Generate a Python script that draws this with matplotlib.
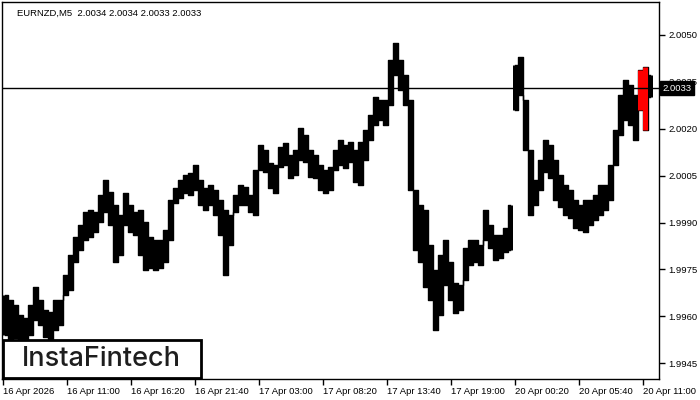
import matplotlib
matplotlib.use("Agg")
import matplotlib.pyplot as plt
import matplotlib.transforms as mtransforms
from matplotlib.patches import Rectangle

# ---------------- data (aggregated bars) -------------
highs = [1.99669, 1.99653, 1.99637, 1.99605, 1.99595, 1.99637, 1.99694, 1.99653, 1.99621, 1.99614,
         1.99653, 1.99653, 1.99732, 1.99796, 1.99854, 1.99892, 1.99934, 1.99940, 1.99934, 1.99988,
         2.00036, 1.99998, 1.99956, 1.99924, 1.99995, 1.99956, 1.99934, 1.99940, 1.99902, 1.99854,
         1.99844, 1.99844, 1.99876, 1.99972, 2.00011, 2.00036, 2.00052, 2.00059, 2.00084, 2.00036,
         2.00011, 2.00020, 2.00004, 1.99972, 1.99940, 1.99924, 1.99988, 2.00020, 2.00014, 1.99988,
         2.00068, 2.00148, 2.00132, 2.00091, 2.00084, 2.00142, 2.00155, 2.00116, 2.00132, 2.00203,
         2.00180, 2.00132, 2.00116, 2.00084, 2.00068, 2.00078, 2.00132, 2.00164, 2.00148, 2.00158,
         2.00132, 2.00158, 2.00196, 2.00244, 2.00302, 2.00292, 2.00292, 2.00420, 2.00474, 2.00420,
         2.00372, 2.00292, 2.00004, 1.99956, 1.99940, 1.99828, 1.99748, 1.99796, 1.99844, 1.99774,
         1.99707, 1.99700, 1.99819, 1.99844, 1.99844, 1.99828, 1.99940, 1.99892, 1.99860, 1.99860,
         1.99883, 1.99956, 2.00404, 2.00430, 2.00292, 2.00132, 2.00036, 2.00100, 2.00164, 2.00148,
         2.00100, 2.00052, 2.00020, 2.00004, 1.99972, 1.99956, 1.99972, 1.99972, 1.99988, 2.00020,
         2.00020, 2.00084, 2.00196, 2.00308, 2.00356, 2.00340, 2.00308, 2.00388, 2.00398, 2.00372]
lows = [1.99541, 1.99525, 1.99531, 1.99525, 1.99518, 1.99541, 1.99589, 1.99573, 1.99534, 1.99525,
        1.99557, 1.99573, 1.99669, 1.99685, 1.99774, 1.99812, 1.99844, 1.99854, 1.99870, 1.99902,
        1.99934, 1.99892, 1.99774, 1.99796, 1.99892, 1.99870, 1.99860, 1.99796, 1.99748, 1.99755,
        1.99748, 1.99755, 1.99774, 1.99844, 1.99963, 1.99979, 1.99995, 1.99988, 2.00004, 1.99956,
        1.99940, 1.99956, 1.99924, 1.99860, 1.99732, 1.99828, 1.99934, 1.99956, 1.99956, 1.99934,
        1.99924, 2.00068, 2.00062, 2.00011, 1.99995, 2.00078, 2.00084, 2.00043, 2.00052, 2.00100,
        2.00094, 2.00046, 2.00043, 2.00004, 1.99995, 2.00004, 2.00068, 2.00084, 2.00075, 2.00094,
        2.00030, 2.00020, 2.00100, 2.00164, 2.00212, 2.00228, 2.00212, 2.00276, 2.00372, 2.00324,
        2.00276, 2.00004, 1.99812, 1.99774, 1.99694, 1.99653, 1.99557, 1.99605, 1.99700, 1.99653,
        1.99611, 1.99621, 1.99716, 1.99764, 1.99774, 1.99764, 1.99844, 1.99819, 1.99780, 1.99787,
        1.99806, 1.99812, 2.00260, 2.00308, 2.00132, 1.99924, 1.99956, 2.00004, 2.00062, 2.00043,
        1.99972, 1.99950, 1.99924, 1.99915, 1.99883, 1.99876, 1.99870, 1.99892, 1.99908, 1.99924,
        1.99940, 1.99972, 2.00084, 2.00180, 2.00228, 2.00212, 2.00164, 2.00260, 2.00196, 2.00302]
session_break = 102                  # first bar after the weekend gap
highlight_bars = [127, 128]          # pattern bars drawn in red
last_price = 2.0033
title = "EURNZD,M5  2.0034 2.0034 2.0033 2.0033"
x_labels = ["16 Apr 2026", "16 Apr 11:00", "16 Apr 16:20", "16 Apr 21:40", "17 Apr 03:00",
            "17 Apr 08:20", "17 Apr 13:40", "17 Apr 19:00", "20 Apr 00:20", "20 Apr 05:40",
            "20 Apr 11:00"]
y_ticks = [1.9945, 1.9960, 1.9975, 1.9990, 2.0005, 2.0020, 2.0035, 2.0050]

FONT = "Liberation Sans"

# ---------------- figure ----------------
W, H = 700, 400
fig = plt.figure(figsize=(W / 100, H / 100), dpi=100)
ax = fig.add_axes([2 / W, 1 - 379 / H, 657 / W, 377 / H])

n = len(highs)
xs = list(range(n))

# connecting step outline within each session so the bars read as one trace
for a, b in [(0, session_break), (session_break, n)]:
    ax.step(xs[a:b], highs[a:b], where="mid", color="black", lw=1.0, zorder=2)
    ax.step(xs[a:b], lows[a:b], where="mid", color="black", lw=1.0, zorder=2)
colors = ["#ff0000" if i in highlight_bars else "#000000" for i in xs]
ax.vlines(xs, lows, highs, colors=colors, linewidth=3.6, capstyle="butt", zorder=3)

ax.axhline(last_price, color="black", lw=1, zorder=4)

ax.set_xlim(-0.6, 130.8)
ax.set_ylim(1.99400, 2.00605)

for s in ax.spines.values():
    s.set_linewidth(1.0)
    s.set_color("black")

# x ticks: one label every 64 px (12.8 bins)
tick_pos = [-0.4 + 12.8 * k for k in range(len(x_labels))]
ax.set_xticks(tick_pos)
ax.set_xticklabels(x_labels, fontsize=6.8, ha="left", family=FONT)
ax.tick_params(axis="x", direction="out", length=4, width=1, pad=2, colors="black")

ax.yaxis.tick_right()
ax.set_yticks(y_ticks)
ax.set_yticklabels([f"{v:.4f}" for v in y_ticks], fontsize=6.8, family=FONT)
ax.tick_params(axis="y", direction="out", length=4, width=1, pad=2.5, colors="black")

# title
ax.text(15 / 657, 1 - 7 / 377, title, transform=ax.transAxes, fontsize=6.8,
        family=FONT, ha="left", va="top", color="black")

# price label box on the right
trans = mtransforms.blended_transform_factory(ax.transAxes, ax.transData)
ax.text(1.0055, last_price, f"{last_price:.4f}", transform=trans, fontsize=6.8,
        family=FONT, color="white", ha="left", va="center", zorder=10, clip_on=False,
        bbox=dict(boxstyle="square,pad=0.25", fc="black", ec="black"))

# logo box
logo = Rectangle((3 / W, 1 - 378 / H), 198 / W, 38 / H, transform=fig.transFigure,
                 fc="white", ec="black", lw=2, zorder=5)
fig.patches.append(logo)
fig.text(101 / W, 1 - 359 / H, "InstaFintech", fontsize=19.5, family="Inter",
         fontweight="medium", color="#1e1e1e", ha="center", va="center", zorder=6)

fig.savefig("out.png", dpi=100)
